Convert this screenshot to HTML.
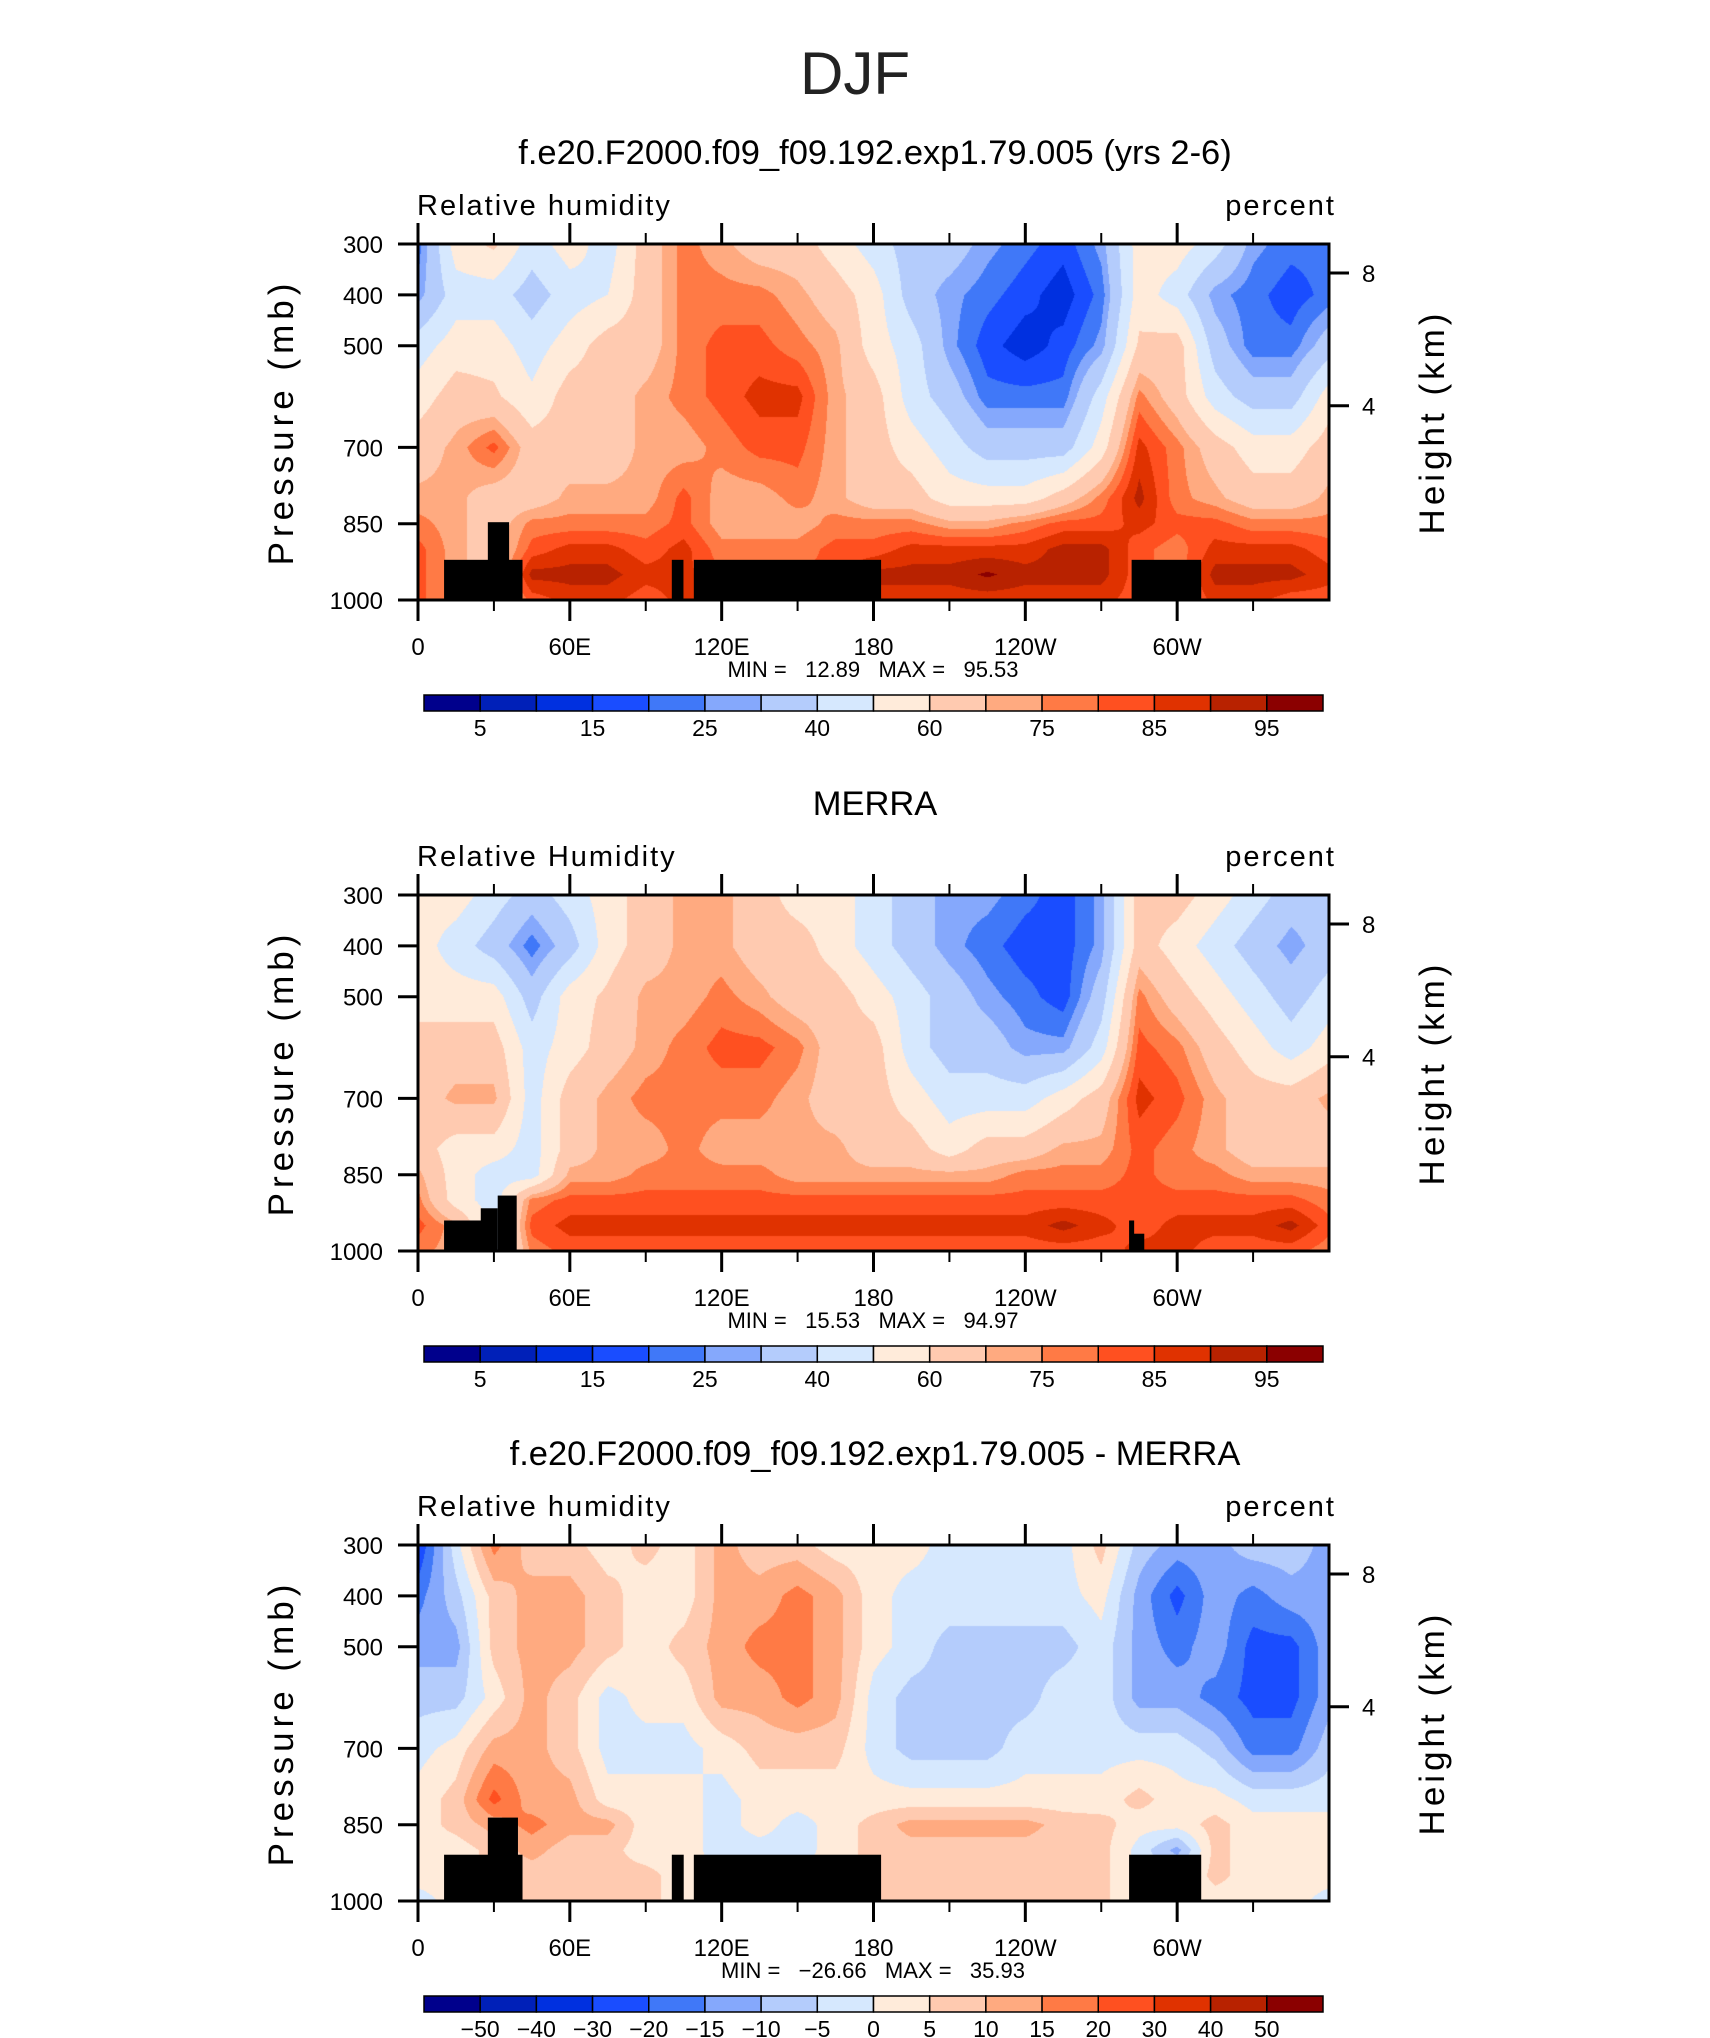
<!DOCTYPE html>
<html><head><meta charset="utf-8">
<style>
html,body{margin:0;padding:0;background:#fff;}
#root{position:relative;width:1710px;height:2038px;overflow:hidden;background:#fff;font-family:"Liberation Sans",sans-serif;}
canvas{position:absolute;}
svg{position:absolute;left:0;top:0;}
</style></head>
<body>
<div id="root">
<canvas id="c0" width="911" height="356" style="left:418px;top:244px"></canvas>
<canvas id="c1" width="911" height="356" style="left:418px;top:895px"></canvas>
<canvas id="c2" width="911" height="356" style="left:418px;top:1545px"></canvas>
<svg id="ov" width="1710" height="2038">
<text x="855" y="94" font-size="60" text-anchor="middle" font-weight="300" fill="#222">DJF</text>
</svg>
</div>
<script>
// ---------- data ----------
const pressureLevels=[300,400,500,600,700,800,850,900,950,1000];
const lonStep=15;
const rhLevels=[5,10,15,20,25,30,40,50,60,70,75,80,85,90,95];
const rhLabels=["5","15","25","40","60","75","85","95"];
const diffLevels=[-50,-40,-30,-20,-15,-10,-5,0,5,10,15,20,30,40,50];
const diffLabels=["−50","−40","−30","−20","−15","−10","−5","0","5","10","15","20","30","40","50"];
const colors=["#00008c","#0020b8","#0030e0","#1a4dff","#4078f8","#85a8fc","#b4ccfc","#d6e8fe","#ffebda","#ffcab0","#ffaa80","#ff7a45","#ff5020","#e03200","#b82200","#8b0000"];
const xTickLons=[0,60,120,180,240,300];
const xTickLabels=["0","60E","120E","180","120W","60W"];
const yTickP=[300,400,500,700,850,1000];
const hTickP=[357,618];
const hTickLabels=["8","4"];
// each row = one longitude (0..360 step 15), values at pressureLevels
const rhModel=[
[22,27,45,55,65,72,77,82,82,82],
[55,45,55,65,72,72,72,72,72,72],
[62,45,55,62,82,65,65,65,65,65],
[45,35,45,52,65,65,77,82,92,82],
[55,45,55,65,65,72,77,87,92,87],
[45,50,65,65,65,72,77,87,92,87],
[65,65,65,72,72,72,77,82,87,82],
[77,77,77,77,72,82,82,87,87,87],
[72,77,82,82,77,72,72,77,80,80],
[65,77,82,87,82,72,72,77,80,80],
[65,72,77,87,82,77,72,77,80,80],
[55,65,72,72,72,72,77,82,82,82],
[45,55,55,65,65,65,77,82,92,87],
[35,35,45,45,55,65,77,87,92,87],
[35,27,27,35,45,55,72,87,92,87],
[27,22,17,22,35,55,72,87,96,87],
[22,17,12,22,35,55,77,87,92,87],
[17,12,17,22,35,65,82,92,92,87],
[27,22,27,45,55,77,82,92,92,87],
[55,55,62,77,87,92,87,82,82,82],
[55,45,65,65,77,77,82,77,77,77],
[45,27,35,45,65,72,82,87,92,87],
[27,22,22,35,55,65,77,87,92,87],
[22,17,22,35,55,65,77,87,92,82],
[22,22,35,55,65,72,77,82,87,82]];
const rhMerra=[
[55,55,55,65,65,65,72,77,82,77],
[55,45,55,65,72,55,55,55,72,72],
[45,35,55,65,72,55,45,45,45,45],
[35,22,35,45,45,45,45,77,82,77],
[45,35,55,55,65,65,72,82,87,82],
[55,55,62,65,72,72,72,82,87,82],
[65,65,72,72,77,72,77,82,87,82],
[72,72,72,77,77,77,77,82,87,82],
[72,72,77,82,77,72,77,82,87,82],
[65,65,72,82,77,72,77,82,87,82],
[55,65,65,77,72,72,72,82,87,82],
[55,55,65,65,65,72,72,82,87,82],
[45,45,55,65,65,65,72,82,87,82],
[35,35,45,45,55,65,72,82,87,82],
[27,27,35,35,45,55,72,82,87,82],
[27,22,27,35,45,65,72,82,87,82],
[22,17,22,27,45,65,77,82,87,82],
[17,17,17,27,55,72,77,82,92,82],
[27,27,35,45,65,72,77,82,87,82],
[65,65,77,82,87,82,82,82,82,87],
[65,55,65,77,82,77,77,82,87,87],
[55,45,55,65,72,72,77,82,87,82],
[45,35,45,55,65,65,72,82,87,82],
[35,27,35,45,65,65,72,82,92,82],
[35,35,45,55,72,65,72,77,82,77]];
const rhDiff=[
[-25,-17,-12,-7,-2,2,2,2,2,-2],
[-2,-7,-12,-7,2,7,7,2,2,2],
[17,7,7,2,12,22,12,7,7,7],
[7,12,12,12,12,12,17,12,7,7],
[7,12,12,7,7,12,12,7,7,7],
[2,7,7,-2,-2,2,12,7,7,7],
[7,2,2,2,-2,2,2,2,7,7],
[2,2,7,2,-2,2,2,2,2,2],
[12,12,12,12,2,-2,-2,-2,0,0],
[7,12,17,12,7,2,2,-2,0,0],
[7,17,17,17,7,2,-2,-2,0,0],
[2,12,12,12,7,2,2,2,2,2],
[2,2,2,-2,-2,2,7,7,7,7],
[2,-2,-2,-7,-7,2,12,8,8,8],
[-2,-2,-7,-7,-7,2,12,8,8,8],
[-2,-2,-7,-7,-7,2,12,8,8,8],
[-2,-2,-7,-7,-2,2,12,8,8,8],
[-2,-2,-7,-2,-2,2,8,7,8,8],
[7,2,-2,-2,-2,2,7,7,7,7],
[-7,-12,-12,-12,-2,7,2,-2,-2,-2],
[-12,-22,-17,-12,-2,2,2,-12,-2,-2],
[-12,-12,-12,-17,-7,2,7,7,7,2],
[-7,-17,-22,-22,-17,-2,2,2,2,2],
[-7,-12,-22,-22,-17,-2,2,2,2,2],
[-12,-12,-12,-12,-7,-2,2,2,2,-2]];
// terrain boxes: [lon start, lon end, top pressure]
const terrainModel=[[10.3,41.3,921],[27.6,36,847],[100.3,104.9,921],[109,183,921],[282,309.5,921]];
const terrainMerra=[[10.3,25,940],[24.8,31.5,916],[31.5,39,891],[281,283,940],[282.5,287,966]];
const terrainDiff=[[10.3,41.3,909],[27.6,39.5,836],[100.3,105,909],[109,183,909],[281,309.5,909]];

// ---------- geometry ----------
const X0=418,X1=1329,PW=911,PH=356;
const panelTops=[244,895,1545];
function xOf(lon){return X0+lon/360*PW;}
function yOf(p,top){return top+(p-300)/700*PH;}

function levelIndex(v,levels){let k=0;while(k<levels.length&&v>=levels[k])k++;return k;}
function hexRgb(h){return [parseInt(h.substr(1,2),16),parseInt(h.substr(3,2),16),parseInt(h.substr(5,2),16)];}
const rgb=colors.map(hexRgb);

function drawField(id,data,levels){
  const cv=document.getElementById(id),ctx=cv.getContext('2d');
  const img=ctx.createImageData(PW,PH);
  const nc=data.length;
  for(let j=0;j<PH;j++){
    const p=300+(j+0.5)/PH*700;
    let r=0;while(r<pressureLevels.length-2&&p>pressureLevels[r+1])r++;
    const ty=(p-pressureLevels[r])/(pressureLevels[r+1]-pressureLevels[r]);
    for(let i=0;i<PW;i++){
      const lon=(i+0.5)/PW*360;
      let c=Math.floor(lon/lonStep); if(c>nc-2)c=nc-2;
      const tx=(lon-c*lonStep)/lonStep;
      const a=data[c][r]*(1-ty)+data[c][r+1]*ty;
      const b=data[c+1][r]*(1-ty)+data[c+1][r+1]*ty;
      const v=a*(1-tx)+b*tx;
      const col=rgb[levelIndex(v,levels)];
      const o=(j*PW+i)*4;
      img.data[o]=col[0];img.data[o+1]=col[1];img.data[o+2]=col[2];img.data[o+3]=255;
    }
  }
  ctx.putImageData(img,0,0);
}
drawField('c0',rhModel,rhLevels);
drawField('c1',rhMerra,rhLevels);
drawField('c2',rhDiff,diffLevels);

const NS='http://www.w3.org/2000/svg';
const svg=document.getElementById('ov');
function el(tag,attrs,txt){const e=document.createElementNS(NS,tag);for(const k in attrs)e.setAttribute(k,attrs[k]);if(txt!==undefined)e.textContent=txt;svg.appendChild(e);return e;}

const titles=["f.e20.F2000.f09_f09.192.exp1.79.005 (yrs 2-6)","MERRA","f.e20.F2000.f09_f09.192.exp1.79.005 - MERRA"];
const leftTitles=["Relative humidity","Relative Humidity","Relative humidity"];
const minmax=[["12.89","95.53"],["15.53","94.97"],["−26.66","35.93"]];
const terrains=[terrainModel,terrainMerra,terrainDiff];

for(let k=0;k<3;k++){
  const top=panelTops[k],bot=top+PH;
  let t=el('text',{x:875,y:top-80,'font-size':34.5,'text-anchor':'middle'},titles[k]);
  
  
  t=el('text',{x:417,y:top-29,'font-size':29,'letter-spacing':'2'},leftTitles[k]);
  
  
  t=el('text',{x:1336,y:top-29,'font-size':29,'text-anchor':'end','letter-spacing':'2'},'percent');
  
  
  // terrain
  terrains[k].forEach(b=>{
    const r=el('rect',{x:xOf(b[0]),y:yOf(b[2],top),width:xOf(b[1])-xOf(b[0]),height:bot-yOf(b[2],top),fill:'#000'});
    
    
  });
  // frame
  const f=el('rect',{x:X0,y:top,width:PW,height:PH,fill:'none',stroke:'#000','stroke-width':3});
  
  
  // x ticks
  for(let lon=0;lon<=330;lon+=30){
    const major=lon%60===0, x=xOf(lon);
    const len=major?21:11;
    let l=el('line',{x1:x,y1:bot,x2:x,y2:bot+len,stroke:'#000','stroke-width':major?3:2});
    
    
    l=el('line',{x1:x,y1:top,x2:x,y2:top-len,stroke:'#000','stroke-width':major?3:2});
    
    
  }
  xTickLons.forEach((lon,i)=>{
    const tt=el('text',{x:xOf(lon),y:bot+55,'font-size':24,'text-anchor':'middle'},xTickLabels[i]);
    
    
  });
  yTickP.forEach(p=>{
    const y=yOf(p,top);
    const l=el('line',{x1:X0-20,y1:y,x2:X0,y2:y,stroke:'#000','stroke-width':3});
    
    
    const tt=el('text',{x:X0-35,y:y+9,'font-size':24,'text-anchor':'end'},String(p));
    
    
  });
  hTickP.forEach((p,i)=>{
    const y=yOf(p,top);
    const l=el('line',{x1:X1,y1:y,x2:X1+20,y2:y,stroke:'#000','stroke-width':3});
    
    
    const tt=el('text',{x:X1+33,y:y+9,'font-size':24},hTickLabels[i]);
    
    
  });
  const cy=top+PH/2;
  t=el('text',{x:0,y:0,'font-size':35,'text-anchor':'middle','letter-spacing':'5',transform:`translate(293,${cy}) rotate(-90)`},'Pressure (mb)');
  
  
  t=el('text',{x:0,y:0,'font-size':35,'text-anchor':'middle','letter-spacing':'4',transform:`translate(1444,${cy}) rotate(-90)`},'Height (km)');
  
  
  t=el('text',{x:873,y:bot+77,'font-size':22,'text-anchor':'middle',style:'white-space:pre'},`MIN =   ${minmax[k][0]}   MAX =   ${minmax[k][1]}`);
  
  
  // colorbar
  const cbY=top+451,cbX=424,cbW=899,cbH=16,bw=cbW/colors.length;
  colors.forEach((c,i)=>{
    const r=el('rect',{x:cbX+i*bw,y:cbY,width:bw,height:cbH,fill:c,stroke:'#000','stroke-width':1.5});
    
    
  });
  if(k<2){
    rhLabels.forEach((lab,i)=>{
      const tt=el('text',{x:cbX+(2*i+1)*bw,y:cbY+41,'font-size':23,'text-anchor':'middle'},lab);
      
      
    });
  } else {
    diffLabels.forEach((lab,i)=>{
      const tt=el('text',{x:cbX+(i+1)*bw,y:cbY+41,'font-size':23,'text-anchor':'middle'},lab);
      
      
    });
  }
}
</script>
</body></html>
